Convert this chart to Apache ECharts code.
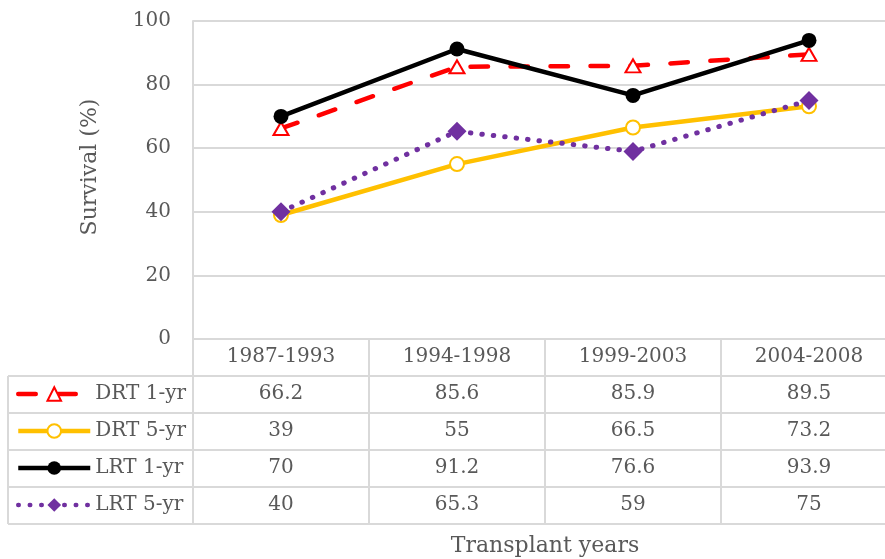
<!DOCTYPE html>
<html>
<head>
<meta charset="utf-8">
<script src="https://cdn.jsdelivr.net/npm/echarts@6/dist/echarts.min.js"></script>
<style>
  html, body { margin: 0; padding: 0; background: #fff; }
  #container { width: 885px; height: 559px; }
</style>
</head>
<body>
<div id="container"></div>
<script>
// data
var categories = ['1987-1993', '1994-1998', '1999-2003', '2004-2008'];
var seriesNames = ['DRT 1-yr', 'DRT 5-yr', 'LRT 1-yr', 'LRT 5-yr'];
var drt1yr = [66.2, 85.6, 85.9, 89.5];
var drt5yr = [39, 55, 66.5, 73.2];
var lrt1yr = [70, 91.2, 76.6, 93.9];
var lrt5yr = [40, 65.3, 59, 75];
var yMin = 0, yMax = 100, yStep = 20;

var FONT = 'DejaVu Serif';
var TXT = '#595959';
var LINE = '#d9d9d9';
var ROW = 37;

var chart = echarts.init(document.getElementById('container'));

var rows = [drt1yr, drt5yr, lrt1yr, lrt5yr];

// main category axis (header row of the table)
var xAxes = [{
  type: 'category',
  data: categories,
  gridIndex: 0,
  position: 'bottom',
  boundaryGap: true,
  axisLine: { show: true, lineStyle: { color: LINE, width: 2 } },
  axisTick: { show: true, length: ROW * 5, lineStyle: { color: LINE, width: 2 } },
  axisLabel: { fontFamily: FONT, fontSize: 20, color: TXT, margin: 18, verticalAlign: 'middle', interval: 0 },
  name: 'Transplant years',
  nameLocation: 'middle',
  nameGap: 196,
  nameTextStyle: { fontFamily: FONT, fontSize: 22, color: TXT, verticalAlign: 'top' }
}];

// one extra axis per table row, labels are the series values
rows.forEach(function (vals, i) {
  xAxes.push({
    type: 'category',
    data: categories,
    gridIndex: 0,
    position: 'bottom',
    offset: ROW * (i + 1),
    axisLine: { show: false },
    axisTick: { show: false },
    splitLine: { show: false },
    axisLabel: {
      fontFamily: FONT, fontSize: 20, color: TXT, margin: 18, verticalAlign: 'middle', interval: 0,
      formatter: function (v, idx) { return String(vals[idx]); }
    }
  });
});

// table borders
var graphics = [];
for (var r = 1; r <= 5; r++) {
  graphics.push({
    type: 'line', silent: true,
    shape: { x1: 8, y1: 339 + ROW * r, x2: 900, y2: 339 + ROW * r },
    style: { stroke: LINE, lineWidth: 2 }
  });
}
graphics.push({
  type: 'line', silent: true,
  shape: { x1: 8, y1: 339 + ROW, x2: 8, y2: 339 + ROW * 5 },
  style: { stroke: LINE, lineWidth: 2 }
});

var option = {
  animation: false,
  backgroundColor: '#fff',
  textStyle: { fontFamily: FONT },
  grid: { left: 193, top: 21, width: 704, height: 318, outerBoundsMode: 'none', containLabel: false },
  legend: {
    orient: 'vertical',
    left: 16,
    top: 384,
    padding: 0,
    itemWidth: 72,
    itemHeight: 17,
    itemGap: 17,
    selectedMode: false,
    data: seriesNames,
    textStyle: { fontFamily: FONT, fontSize: 20, color: TXT },
    lineStyle: { width: 4.5 }
  },
  xAxis: xAxes,
  yAxis: {
    type: 'value',
    min: yMin, max: yMax, interval: yStep,
    axisLine: { show: true, lineStyle: { color: LINE, width: 2 } },
    axisTick: { show: false },
    splitLine: { lineStyle: { color: LINE, width: 2 } },
    axisLabel: { fontFamily: FONT, fontSize: 20, color: TXT, margin: 22 },
    name: 'Survival (%)',
    nameLocation: 'middle',
    nameGap: 92,
    nameRotate: 90,
    nameTextStyle: { fontFamily: FONT, fontSize: 22, color: TXT, padding: [0, 0, 0, 26] }
  },
  graphic: graphics,
  series: [
    {
      name: seriesNames[0], type: 'line', data: drt1yr,
      symbol: 'emptyTriangle', symbolSize: [15, 13],
      lineStyle: { color: '#ff0000', width: 4.5, type: [17.5, 22.5], cap: 'round' },
      itemStyle: { color: '#ff0000', borderWidth: 2 }
    },
    {
      name: seriesNames[1], type: 'line', data: drt5yr,
      symbol: 'emptyCircle', symbolSize: 14,
      lineStyle: { color: '#ffc000', width: 4.5 },
      itemStyle: { color: '#ffc000', borderWidth: 3 }
    },
    {
      name: seriesNames[2], type: 'line', data: lrt1yr,
      symbol: 'circle', symbolSize: 15,
      lineStyle: { color: '#000000', width: 4.5 },
      itemStyle: { color: '#000000' }
    },
    {
      name: seriesNames[3], type: 'line', data: lrt5yr,
      symbol: 'diamond', symbolSize: 19,
      lineStyle: { color: '#7030a0', width: 5, type: [0.5, 11], cap: 'round' },
      itemStyle: { color: '#7030a0' }
    }
  ]
};

chart.setOption(option);
</script>
</body>
</html>
